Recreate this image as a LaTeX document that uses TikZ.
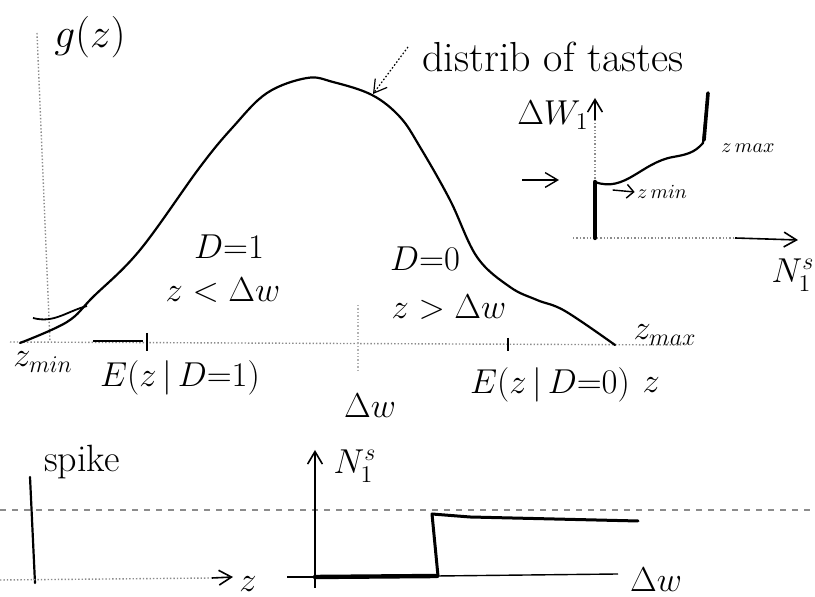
\documentclass[tikz,border=0pt]{standalone}
\usepackage{amsmath}
\usetikzlibrary{arrows.meta, positioning, calc}
\tikzset{
  ax/.style  ={draw=black!45, densely dotted, line width=0.7pt},
  crv/.style ={draw, line width=1.1pt, line cap=round, line join=round},
  thk/.style ={draw, line width=2.2pt, line cap=round},
  thn/.style ={draw, line width=0.7pt},
  lbl/.style ={font=\fontsize{17}{20}\selectfont, inner sep=1pt},
  big/.style ={font=\fontsize{21}{25}\selectfont, inner sep=1pt},
  slbl/.style={font=\normalsize, inner sep=1pt},
  fl/.style  ={-{Straight Barb[length=2.2mm, width=2.6mm]}, line width=0.8pt},
}

\begin{document}
\begin{tikzpicture}[x=0.5pt, y=-0.5pt]
  \useasboundingbox (0,0) rectangle (815,597);
  % main plot: axes
  \draw[ax] (37,33) -- (50,342);
  \draw[ax] (10,342) -- (682,345);
  \draw[thn] (93,341) -- (143,341);
  \draw[thn] (147,333) -- (147,351);
  \draw[thn] (508,338) -- (508,351);
  \draw[ax, draw=black!30] (358,305) -- (358,372);
  % distribution of tastes
  \draw[crv] plot[smooth, tension=0.6] coordinates {(20,343) (67,322) (93,297) (140,250) (200,167) (233,127) (267,93) (307,78) (333,82) (372,95) (400,117) (420,147) (450,200) (477,257) (510,287) (537,300) (565,311) (615,345)};
  \draw[thn, line width=0.9pt] (33,318) to[out=-15, in=195] (87,306);
  \coordinate (onc) at (373,94);
  % labels of the main plot
  \node[big] (gz) at (90,37) {$g(z)$};
  \node[big] (dist) at (553,57) {distrib of tastes};
  \node[lbl] (d1) at (229,247) {$D{=}1$};
  \node[lbl] (c1) at (223,290) {$z<\Delta w$};
  \node[lbl] (d0) at (425,259) {$D{=}0$};
  \node[lbl] (c0) at (449,307) {$z>\Delta w$};
  \node[lbl] (zmin) at (43,362) {$z_{min}$};
  \node[lbl] (e1) at (180,378) {$E(z\,|\,D{=}1)$};
  \node[lbl] (dw) at (370,406) {$\Delta w$};
  \node[lbl] (e0) at (550,385) {$E(z\,|\,D{=}0)$};
  \node[lbl, right=4pt of e0] (zax) {$z$};
  \node[lbl] (zmax) at (665,335) {$z_{max}$};
  \draw[fl, densely dotted, line width=0.6pt] (dist.west) ++(-12,-10) -- (onc);
  % inset: Delta W_1 against N_1^s
  \draw[ax] (573,238) -- (735,238);
  \draw[fl] (735,238) -- (798,240);
  \draw[ax] (595,182) -- (595,112);
  \draw[fl] (595,120) -- (595,98);
  \draw[thk] (595,238) -- (595,182);
  \coordinate (kink) at (595,182);
  \coordinate (top) at (708,93);
  \draw[crv] (kink) to[out=-20, in=190] (673,157) to[out=10, in=-130] (703,143) -- (top);
  \draw[thk, line width=1.8pt] (704,140) -- (top);
  \node[lbl] (dw1) at (553,115) {$\Delta W_1$};
  \node[lbl] (n1) at (793,275) {$N_1^s$};
  \node[slbl] (zmi) at (662,192) {$z\,min$};
  \node[slbl] (zma) at (748,148) {$z\,max$};
  \coordinate (pt) at (522,180);
  \draw[fl, line width=0.7pt] (pt) -- ($(kink)+(-36,-2)$);
  \draw[thn, -{Straight Barb[length=1.2mm]}] (zmi.west) ++(-22,-2) -- (zmi.west);
  % bottom left: spike at z min
  \draw[ax, dashed] (0,510) -- (815,510);
  \node[lbl, font=\fontsize{19}{22}\selectfont] (spike) at (82,462) {spike};
  \draw[crv] (30,477) -- (35,583);
  \draw[ax] (0,580) -- (212,578);
  \draw[fl] (212,578) -- (233,577);
  \node[lbl] (zb) at (248,584) {$z$};
  % bottom right: step of N_1^s in Delta w
  \draw[fl] (315,588) -- (315,450);
  \node[lbl] (ns) at (355,466) {$N_1^s$};
  \draw[thn] (287,577) -- (315,577);
  \draw[thk] (315,577) -- (437,576);
  \draw[thn] (437,576) -- (618,574);
  \draw[crv, line width=1.5pt] (438,576) -- (432,514) -- (470,517) -- (638,521);
  \node[lbl] (dwb) at (656,580) {$\Delta w$};
\end{tikzpicture}
\end{document}
